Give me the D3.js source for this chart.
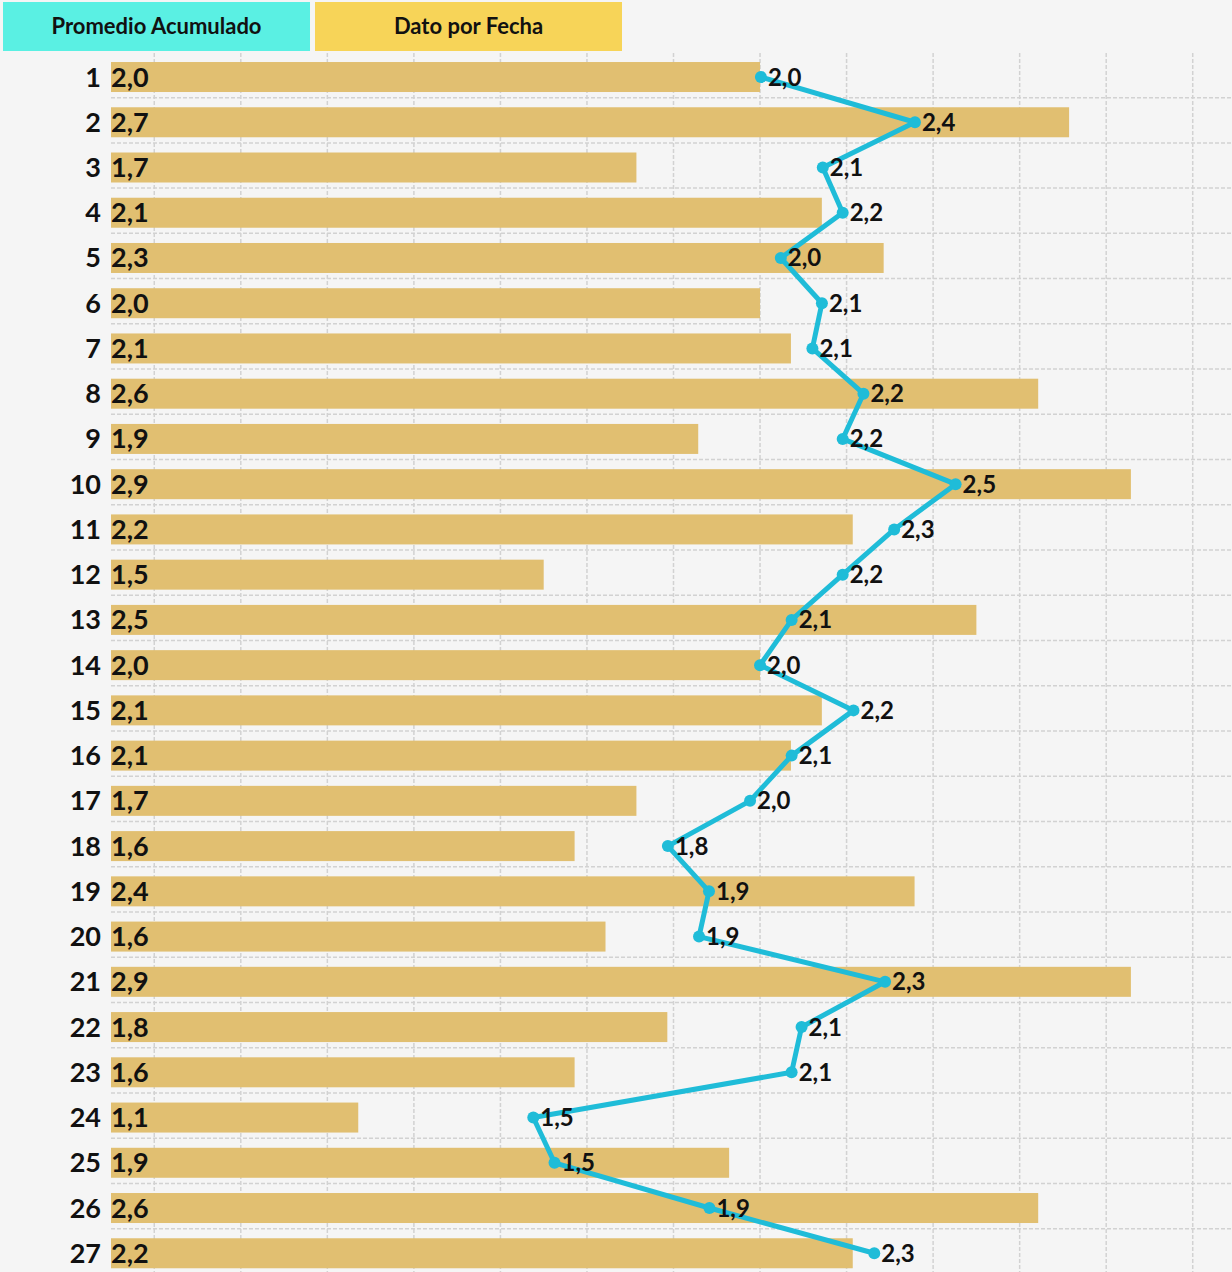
<!DOCTYPE html>
<html>
<head>
<meta charset="utf-8">
<script src="https://cdn.jsdelivr.net/npm/d3@7"></script>
<style>
  html, body { margin: 0; padding: 0; background: #f5f5f5; }
  svg { display: block; font-family: Lato, "Noto Sans", sans-serif; }
</style>
</head>
<body>
<svg id="chart" width="1232" height="1272"></svg>
<script>
// Jornadas (fechas) of the season
const fechas = d3.range(1, 28).map(String);

// Goals per match in each fecha
const datoPorFecha = [
  28/14, 38/14, 24/14, 30/14, 32/14, 28/14, 29/14, 37/14, 26/14,
  40/14, 31/14, 21/14, 35/14, 28/14, 30/14, 29/14, 24/14, 22/14,
  33/14, 23/14, 40/14, 25/14, 22/14, 15/14, 27/14, 37/14, 31/14
];

// Running average
const promedioAcumulado = [
  2.002, 2.358, 2.145, 2.191, 2.048, 2.143, 2.121, 2.239, 2.191,
  2.452, 2.310, 2.191, 2.073, 2.000, 2.216, 2.073, 1.977, 1.787,
  1.882, 1.859, 2.289, 2.096, 2.073, 1.476, 1.525, 1.883, 2.264
];

const legendItems = ["Promedio Acumulado", "Dato por Fecha"];
const gridTicks = d3.range(0.6, 3.01, 0.2);

const W = 1232, H = 1272;
const svg = d3.select("#chart");

const x = d3.scaleLinear().domain([0.5, 3.1]).range([111, 1236]);
const y = d3.scaleBand().domain(fechas).range([54.4, 54.4 + 27 * 45.24]).paddingInner(0.337).paddingOuter(0.1685);
const step = y.step();
const fmt = v => d3.format(".1f")(v).replace(".", ",");

const colors = {
  legendLine: "#5af0e3",
  legendBar: "#f7d458",
  bar: "#e1bf71",
  line: "#1fbcd8",
  grid: "#d2d2d2",
  text: "#111111"
};

// Grid
const grid = svg.append("g").attr("class", "grid");
grid.selectAll("line.v").data(gridTicks).join("line")
  .attr("class", "v")
  .attr("x1", d => x(d)).attr("x2", d => x(d))
  .attr("y1", 53).attr("y2", H)
  .attr("stroke", colors.grid).attr("stroke-width", 1.5).attr("stroke-dasharray", "4,2");
const hy = d => y(d) + y.bandwidth() + (step - y.bandwidth()) / 2 - 2;
grid.selectAll("line.h").data(fechas).join("line")
  .attr("class", "h")
  .attr("x1", 111).attr("x2", W)
  .attr("y1", hy).attr("y2", hy)
  .attr("stroke", colors.grid).attr("stroke-width", 1.5).attr("stroke-dasharray", "4,2");

// Bars
svg.append("g").selectAll("rect").data(datoPorFecha).join("rect")
  .attr("x", x(0.5))
  .attr("y", (d, i) => y(fechas[i]))
  .attr("width", d => x(d) - x(0.5))
  .attr("height", y.bandwidth())
  .attr("fill", colors.bar);

// Category labels
svg.append("g").selectAll("text").data(fechas).join("text")
  .attr("x", 101)
  .attr("y", d => y(d) + y.bandwidth() / 2 + 9.5)
  .attr("text-anchor", "end")
  .attr("font-size", 27).attr("font-weight", 700)
  .attr("fill", colors.text)
  .text(d => d);

// Bar value labels
svg.append("g").selectAll("text").data(datoPorFecha).join("text")
  .attr("x", 111)
  .attr("y", (d, i) => y(fechas[i]) + y.bandwidth() / 2 + 9.5)
  .attr("font-size", 27).attr("font-weight", 700)
  .attr("fill", colors.text)
  .text(d => fmt(d));

// Line
const cy = i => y(fechas[i]) + y.bandwidth() / 2;
const line = d3.line().x(d => x(d)).y((d, i) => cy(i));
svg.append("path").datum(promedioAcumulado)
  .attr("d", line)
  .attr("fill", "none")
  .attr("stroke", colors.line)
  .attr("stroke-width", 5)
  .attr("stroke-linejoin", "round");
svg.append("g").selectAll("circle").data(promedioAcumulado).join("circle")
  .attr("cx", d => x(d))
  .attr("cy", (d, i) => cy(i))
  .attr("r", 6)
  .attr("fill", colors.line);
svg.append("g").selectAll("text").data(promedioAcumulado).join("text")
  .attr("x", d => x(d) + 7)
  .attr("y", (d, i) => cy(i) + 8.5)
  .attr("font-size", 24).attr("font-weight", 700)
  .attr("fill", colors.text)
  .text(d => fmt(d));

// Legend
const legend = svg.append("g");
const lx = d3.scaleBand().domain(legendItems).range([3, 622]).paddingInner(0.016);
legend.selectAll("rect").data(legendItems).join("rect")
  .attr("x", d => lx(d)).attr("y", 2)
  .attr("width", lx.bandwidth()).attr("height", 49)
  .attr("fill", (d, i) => i === 0 ? colors.legendLine : colors.legendBar);
legend.selectAll("text").data(legendItems).join("text")
  .attr("x", d => lx(d) + lx.bandwidth() / 2)
  .attr("y", 34)
  .attr("text-anchor", "middle")
  .attr("font-size", 22).attr("font-weight", 700)
  .attr("fill", colors.text)
  .text(d => d);
</script>
</body>
</html>
